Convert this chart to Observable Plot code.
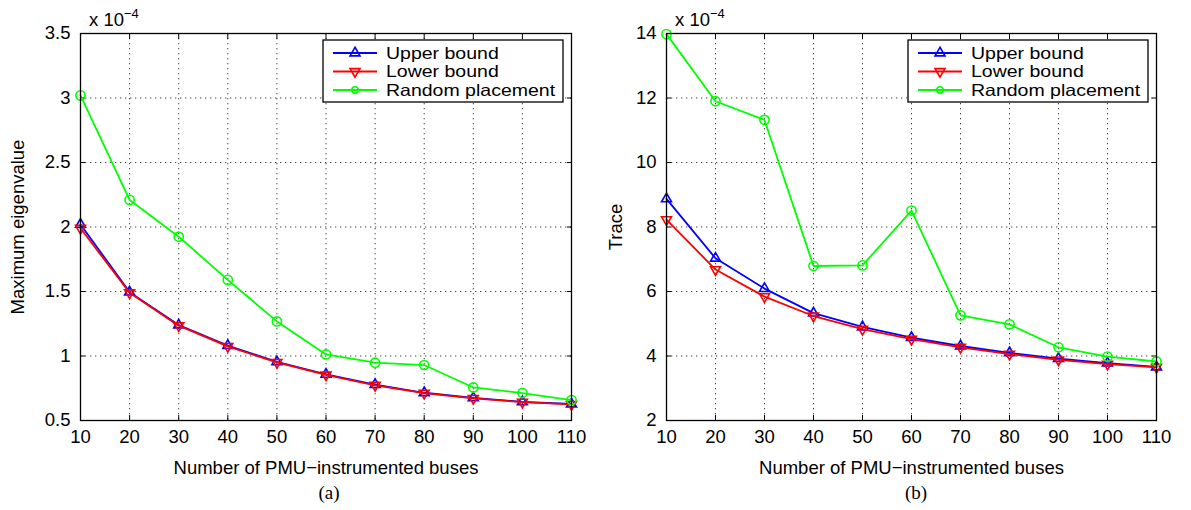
<!DOCTYPE html>
<html><head><meta charset="utf-8">
<script src="https://cdn.jsdelivr.net/npm/d3@7"></script>
<script src="https://cdn.jsdelivr.net/npm/@observablehq/plot@0.6"></script>
<style>
body{margin:0;background:#fff;}
#wrap{position:relative;width:1191px;height:510px;overflow:hidden;}
.panel{position:absolute;top:0;}
.cap{position:absolute;top:482px;font-family:"Liberation Serif","Times New Roman",serif;font-size:19px;width:120px;text-align:center;}
</style></head><body><div id="wrap"></div>
<script>
// ---- data (values in units of 1e-4) ----
const buses = [10, 20, 30, 40, 50, 60, 70, 80, 90, 100, 110];
const seriesNames = ["Upper bound", "Lower bound", "Random placement"];
const seriesColors = ["#0000ff", "#ff0000", "#00ff00"];
const eigUpper  = [2.02, 1.495, 1.24, 1.08, 0.955, 0.858, 0.778, 0.715, 0.675, 0.645, 0.628];
const eigLower  = [1.99, 1.49, 1.235, 1.075, 0.95, 0.853, 0.773, 0.712, 0.672, 0.642, 0.625];
const eigRandom = [3.02, 2.21, 1.925, 1.59, 1.268, 1.012, 0.948, 0.93, 0.756, 0.713, 0.658];
const traceUpper  = [8.87, 7.03, 6.09, 5.33, 4.90, 4.57, 4.31, 4.10, 3.92, 3.78, 3.66];
const traceLower  = [8.23, 6.68, 5.84, 5.24, 4.83, 4.52, 4.27, 4.06, 3.88, 3.75, 3.65];
const traceRandom = [13.98, 11.9, 11.32, 6.79, 6.81, 8.51, 5.26, 4.98, 4.27, 3.98, 3.83];
const xTicks = [10, 20, 30, 40, 50, 60, 70, 80, 90, 100, 110];
const eigTicks = [0.5, 1, 1.5, 2, 2.5, 3, 3.5];
const traceTicks = [2, 4, 6, 8, 10, 12, 14];
const xLabel = "Number of PMU\u2212instrumented buses";

const FONT = "'Liberation Sans', Arial, Helvetica, sans-serif";

function makePanel({left, width, marginLeft, marginRight, yTicks, yLabel, yLabelOffset, values, caption, capX}) {
  const marks = [
    Plot.gridX(xTicks, {stroke: "#000", strokeOpacity: 0.75, strokeDasharray: "1.3,3.7", strokeWidth: 1}),
    Plot.gridY(yTicks, {stroke: "#000", strokeOpacity: 0.75, strokeDasharray: "1.3,3.7", strokeWidth: 1}),
    Plot.axisX(xTicks, {anchor: "bottom", tickSize: -5, tickPadding: 14, tickFormat: d => String(d),
      label: xLabel, labelAnchor: "center", labelOffset: 53, labelArrow: "none"}),
    Plot.axisX(xTicks, {anchor: "top", tickSize: -5, tickFormat: () => "", label: null}),
    Plot.axisY(yTicks, {anchor: "left", tickSize: -5, tickPadding: 15, tickFormat: d => String(d),
      label: yLabel, labelAnchor: "center", labelOffset: yLabelOffset, labelArrow: "none"}),
    Plot.axisY(yTicks, {anchor: "right", tickSize: -5, tickFormat: () => "", label: null})
  ];
  values.forEach((vals, k) => {
    const data = vals.map((v, i) => ({x: buses[i], y: v}));
    marks.push(Plot.line(data, {x: "x", y: "y", stroke: seriesColors[k], strokeWidth: 1.8}));
    if (k < 2) {
      marks.push(Plot.dot(data, {x: "x", y: "y", symbol: "triangle", r: 3.7, rotate: k === 1 ? 180 : 0,
        stroke: seriesColors[k], fill: "none", strokeWidth: 1.6}));
    } else {
      marks.push(Plot.dot(data, {x: "x", y: "y", symbol: "circle", r: 4.6,
        stroke: seriesColors[k], fill: "none", strokeWidth: 1.6}));
    }
  });
  marks.push(Plot.frame({stroke: "#000", strokeWidth: 1.3}));
  const svg = Plot.plot({
    width, height: 480, marginLeft, marginRight, marginTop: 33, marginBottom: 60,
    style: {fontFamily: FONT, fontSize: "18.5px", color: "#000", background: "transparent", overflow: "visible"},
    x: {domain: [10, 110]},
    y: {domain: [yTicks[0], yTicks[yTicks.length - 1]]},
    marks
  });
  const div = document.createElement("div");
  div.className = "panel";
  div.style.left = left + "px";
  div.appendChild(svg);
  document.getElementById("wrap").appendChild(div);

  const s = d3.select(svg);
  const frameRight = width - marginRight;
  // exponent label
  const ex = s.append("text").attr("x", marginLeft + 9).attr("y", 26).attr("text-anchor", "start")
    .attr("font-family", FONT).attr("font-size", 18.5).attr("fill", "#000");
  ex.append("tspan").text("x 10");
  ex.append("tspan").attr("dy", -8).attr("font-size", 13).text("\u22124");
  // legend
  const bw = 240, bh = 62, bx = frameRight - 8 - bw, by = 40;
  const g = s.append("g");
  g.append("rect").attr("x", bx).attr("y", by).attr("width", bw).attr("height", bh)
    .attr("fill", "#fff").attr("stroke", "#000").attr("stroke-width", 1.3);
  const rows = [13, 31.5, 50];
  const fs = 16.5, target = 19.5;
  seriesNames.forEach((name, k) => {
    const yy = by + rows[k];
    g.append("line").attr("x1", bx + 10).attr("x2", bx + 54).attr("y1", yy).attr("y2", yy)
      .attr("stroke", seriesColors[k]).attr("stroke-width", 1.8);
    const sym = k < 2 ? d3.symbol(d3.symbolTriangle, Math.PI * 3.7 * 3.7) : d3.symbol(d3.symbolCircle, Math.PI * 3.2 * 3.2);
    g.append("path").attr("d", sym()).attr("transform", `translate(${bx + 32},${yy}) rotate(${k === 1 ? 180 : 0})`)
      .attr("fill", "none").attr("stroke", seriesColors[k]).attr("stroke-width", 1.6);
    const t = g.append("text").attr("x", bx + 63).attr("y", yy).attr("dy", "0.36em").attr("text-anchor", "start")
      .attr("font-family", FONT).attr("font-size", fs).attr("fill", "#000").text(name);
    const L = t.node().getComputedTextLength();
    if (L > 0) t.attr("textLength", L * target / fs).attr("lengthAdjust", "spacingAndGlyphs");
  });

  const cap = document.createElement("div");
  cap.className = "cap";
  cap.style.left = (left + capX - 60) + "px";
  cap.textContent = caption;
  document.getElementById("wrap").appendChild(cap);
}

makePanel({left: 0, width: 595, marginLeft: 80, marginRight: 24, yTicks: eigTicks,
  yLabel: "Maximum eigenvalue", yLabelOffset: 70, values: [eigUpper, eigLower, eigRandom], caption: "(a)", capX: 329});
makePanel({left: 595, width: 596, marginLeft: 71, marginRight: 35, yTicks: traceTicks,
  yLabel: "Trace", yLabelOffset: 58, values: [traceUpper, traceLower, traceRandom], caption: "(b)", capX: 321});
</script></body></html>
